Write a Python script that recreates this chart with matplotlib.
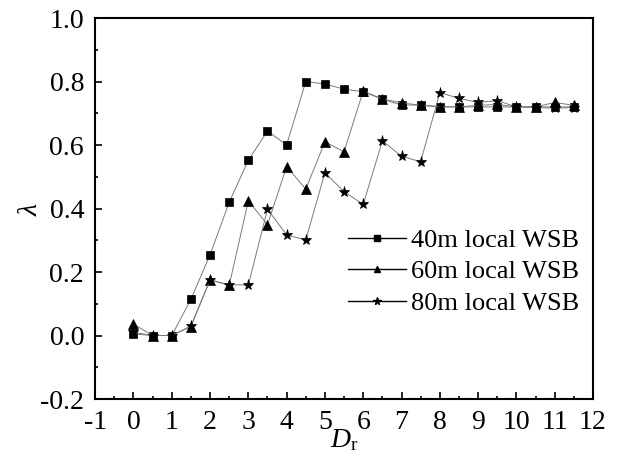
import matplotlib
matplotlib.use("Agg")
import matplotlib.pyplot as plt
from matplotlib.ticker import MultipleLocator

plt.rcParams.update({
    "font.family": "Liberation Serif",
    "mathtext.fontset": "custom",
    "mathtext.rm": "Liberation Serif",
    "mathtext.it": "Liberation Serif:italic",
    "xtick.direction": "in",
    "ytick.direction": "in",
    "axes.unicode_minus": False,
})

# --- datos ---
dr = [0, 0.5, 1, 1.5, 2, 2.5, 3, 3.5, 4, 4.5, 5, 5.5, 6, 6.5, 7, 7.5,
      8, 8.5, 9, 9.5, 10, 10.5, 11, 11.5]
lam_40 = [0.005, 0.0, 0.0, 0.114, 0.254, 0.42, 0.552, 0.644, 0.600, 0.800,
          0.792, 0.776, 0.768, 0.744, 0.726, 0.726, 0.721, 0.72, 0.72, 0.72,
          0.72, 0.72, 0.72, 0.72]
lam_60 = [0.036, 0.0, 0.0, 0.028, 0.175, 0.158, 0.424, 0.349, 0.532, 0.461,
          0.610, 0.579, 0.770, 0.745, 0.733, 0.725, 0.72, 0.72, 0.725, 0.728,
          0.72, 0.72, 0.734, 0.725]
lam_80 = [0.01, 0.0, 0.0, 0.03, 0.175, 0.16, 0.159, 0.398, 0.317, 0.301,
          0.513, 0.453, 0.413, 0.613, 0.565, 0.547, 0.765, 0.747, 0.734, 0.740,
          0.72, 0.718, 0.716, 0.718]
labels = ["40m local WSB", "60m local WSB", "80m local WSB"]

LINE_CLR = "#7a7a7a"

fig = plt.figure(figsize=(6.18, 4.68), dpi=100)
ax = fig.add_axes([0.154, 0.1474, 0.8055, 0.8141])

series = [(lam_40, "s", 5.5), (lam_60, "^", 7), (lam_80, "*", 8)]
for vals, mk, ms in series:
    ax.plot(dr, vals, color=LINE_CLR, linewidth=0.7, marker=mk, markersize=ms,
            markerfacecolor="black", markeredgecolor="black", markeredgewidth=0.5)

# leyenda con líneas negras
handles = []
for (vals, mk, ms), lab in zip(series, labels):
    h, = ax.plot([], [], color="black", linewidth=1.0, marker=mk,
                 markersize=ms * 0.7, markerfacecolor="black",
                 markeredgecolor="black", label=lab)
    handles.append(h)
ax.legend(handles=handles, loc="center left", bbox_to_anchor=(0.47, 0.334),
          frameon=False, fontsize=19, handlelength=2.2, handletextpad=0.2,
          labelspacing=0.3, borderpad=0.2)

ax.set_xlim(-1, 12)
ax.set_ylim(-0.2, 1.0)
ax.xaxis.set_major_locator(MultipleLocator(1))
ax.xaxis.set_minor_locator(MultipleLocator(0.5))
ax.yaxis.set_major_locator(MultipleLocator(0.2))
ax.yaxis.set_minor_locator(MultipleLocator(0.1))
ax.yaxis.set_major_formatter(plt.FuncFormatter(lambda v, _: f"{v:.1f}"))
ax.tick_params(which="both", top=False, right=False, labelsize=20, width=1.2)
ax.tick_params(which="major", length=5, pad=8)
ax.tick_params(which="minor", length=2.5)
for sp in ax.spines.values():
    sp.set_linewidth(1.5)

ax.set_xlabel(r"$D_{\mathrm{r}}$", fontsize=20, labelpad=-6)
ax.set_ylabel(r"$\lambda$", fontsize=20, labelpad=-2)

fig.savefig("out.png", dpi=100)
